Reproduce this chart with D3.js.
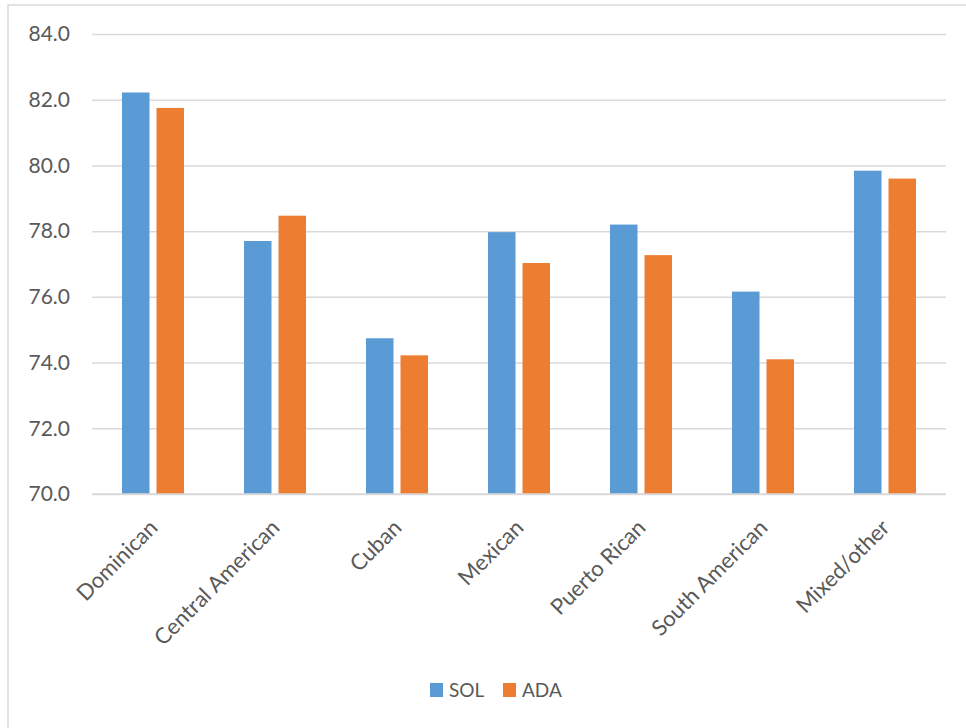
<!DOCTYPE html>
<html>
<head>
<meta charset="utf-8">
<script src="https://cdn.jsdelivr.net/npm/d3@7"></script>
<style>
  html, body { margin: 0; padding: 0; background: #fff; }
  svg { display: block; }
  text { font-family: Lato, "Open Sans", sans-serif; fill: #595959; }
</style>
</head>
<body>
<svg id="chart" width="966" height="728"></svg>
<script>
const categories = ["Dominican", "Central American", "Cuban", "Mexican", "Puerto Rican", "South American", "Mixed/other"];
const seriesNames = ["SOL", "ADA"];
const solValues = [82.22, 77.70, 74.74, 77.97, 78.20, 76.16, 79.84];
const adaValues = [81.75, 78.47, 74.22, 77.03, 77.27, 74.10, 79.60];
const seriesColors = ["#5B9BD5", "#ED7D31"];
const yTicks = [70, 72, 74, 76, 78, 80, 82, 84];

const svg = d3.select("#chart");

// chart border (only left/top visible in frame)
svg.append("rect").attr("x", 8).attr("y", 5).attr("width", 980).attr("height", 740)
  .attr("fill", "none").attr("stroke", "#d9d9d9").attr("stroke-width", 1.5);

const x = d3.scaleBand().domain(categories).range([92, 946]).paddingInner(0).paddingOuter(0);
const y = d3.scaleLinear().domain([70, 84]).range([494, 34]);

const barW = 27.5, gap = 7;
const xs = d3.scaleBand().domain(seriesNames)
  .range([-(barW + gap / 2), barW + gap / 2]).paddingInner(gap / (barW + gap)).paddingOuter(0);

// gridlines
const gy = svg.append("g").attr("transform", "translate(92,0)")
  .call(d3.axisLeft(y).tickValues(yTicks).tickSize(-(946 - 92)).tickFormat(d3.format(".1f")).tickPadding(22));
gy.select(".domain").remove();
gy.selectAll(".tick line").attr("stroke", "#d9d9d9").attr("stroke-width", 1.5);
gy.selectAll(".tick text").attr("font-size", "21px").attr("fill", "#595959")
  .style("font-family", "Lato, 'Open Sans', sans-serif");

// bars
const data = [];
categories.forEach((c, i) => {
  data.push({ c, s: "SOL", v: solValues[i] });
  data.push({ c, s: "ADA", v: adaValues[i] });
});
const colorOf = d3.scaleOrdinal().domain(seriesNames).range(seriesColors);
svg.append("g").selectAll("rect").data(data).join("rect")
  .attr("x", d => x(d.c) + x.bandwidth() / 2 + xs(d.s))
  .attr("width", xs.bandwidth())
  .attr("y", d => y(d.v))
  .attr("height", d => y(70) - y(d.v))
  .attr("fill", d => colorOf(d.s));

// baseline
svg.append("line").attr("x1", 92).attr("x2", 946).attr("y1", y(70)).attr("y2", y(70))
  .attr("stroke", "#d9d9d9").attr("stroke-width", 1.5);

// category labels
svg.append("g").selectAll("text").data(categories).join("text")
  .attr("transform", d => `translate(${x(d) + x.bandwidth() / 2 + 6},${529}) rotate(-45)`)
  .attr("text-anchor", "end")
  .attr("font-size", "22px")
  .text(d => d);

// legend
const legend = svg.append("g");
const legendItems = [
  { name: seriesNames[0], color: seriesColors[0], x: 430 },
  { name: seriesNames[1], color: seriesColors[1], x: 503 }
];
legendItems.forEach(it => {
  legend.append("rect").attr("x", it.x).attr("y", 683).attr("width", 13).attr("height", 14).attr("fill", it.color);
  legend.append("text").attr("x", it.x + 19).attr("y", 697).attr("font-size", "19px").text(it.name);
});
</script>
</body>
</html>
